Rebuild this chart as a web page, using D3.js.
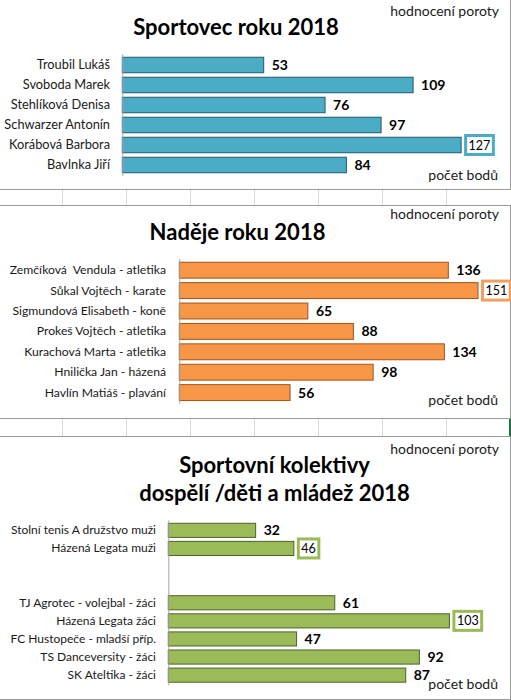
<!DOCTYPE html>
<html>
<head>
<meta charset="utf-8">
<script src="https://cdn.jsdelivr.net/npm/d3@7"></script>
<style>
  html, body { margin: 0; padding: 0; background: #fff; }
  svg { display: block; }
  text { font-family: Lato, "Noto Sans", sans-serif; white-space: pre; }
</style>
</head>
<body>
<svg id="chart" width="511" height="700"></svg>
<script>
// ---- data ----
const cats1 = ["Troubil Lukáš", "Svoboda Marek", "Stehlíková Denisa", "Schwarzer Antonín", "Korábová Barbora", "Bavlnka Jiří"];
const vals1 = [53, 109, 76, 97, 127, 84];
const boxed1 = ["Korábová Barbora"];

const cats2 = ["Zemčíková  Vendula - atletika", "Sůkal Vojtěch - karate", "Sigmundová Elisabeth - koně", "Prokeš Vojtěch - atletika", "Kurachová Marta - atletika", "Hnilička Jan - házená", "Havlín Matiáš - plavání"];
const vals2 = [136, 151, 65, 88, 134, 98, 56];
const boxed2 = ["Sůkal Vojtěch - karate"];

const cats3 = ["Stolní tenis A družstvo muži", "Házená Legata muži", "", "", "TJ Agrotec - volejbal - žáci", "Házená Legata žáci", "FC Hustopeče - mladší příp.", "TS Danceversity - žáci", "SK Ateltika - žáci"];
const vals3 = [32, 46, null, null, 61, 103, 47, 92, 87];
const boxed3 = ["Házená Legata muži", "Házená Legata žáci"];

const titles1 = ["Sportovec roku 2018"];
const titles2 = ["Naděje roku 2018"];
const titles3 = ["Sportovní kolektivy", "dospělí /děti a mládež 2018"];
const xMax1 = 140, xMax2 = 160, xMax3 = 120;
const topNote = "hodnocení poroty";
const axisNote = "počet bodů";

// ---- drawing ----
const svg = d3.select("#chart");

// spreadsheet cell strips between charts
function cellStrip(y0, y1) {
  const g = svg.append("g");
  const cols = d3.range(63, 511, 64);
  g.selectAll("line").data(cols).join("line")
    .attr("x1", d => d - 0.5).attr("x2", d => d - 0.5)
    .attr("y1", y0).attr("y2", y1)
    .attr("stroke", "#d9d9d9").attr("stroke-width", 1);
}
cellStrip(189, 205);
cellStrip(418, 436);
// green selection edge
svg.append("rect").attr("x", 509).attr("y", 418).attr("width", 2).attr("height", 18).attr("fill", "#217346");

const panels = [
  { cats: cats1, vals: vals1, boxed: boxed1, titles: titles1, xMax: xMax1,
    top: -1, bottom: 189, x0: 122.3, y0: 55, y1: 175, pad: 0.225,
    titleX: 236, titleY: [35], noteY: 16, axisNoteY: 180, labelX: 110, labelSize: 12.8,
    fill: "#4bacc6", stroke: "#215a6b", boxStroke: "#4bacc6" },
  { cats: cats2, vals: vals2, boxed: boxed2, titles: titles2, xMax: xMax2,
    top: 205, bottom: 418, x0: 179.3, y0: 260, y1: 402.8, pad: 0.22,
    titleX: 237.5, titleY: [240], noteY: 219, axisNoteY: 405, labelX: 166, labelSize: 12.2,
    fill: "#f79646", stroke: "#a4531a", boxStroke: "#f0a060" },
  { cats: cats3, vals: vals3, boxed: boxed3, titles: titles3, xMax: xMax3,
    top: 436, bottom: 699, x0: 168.3, y0: 521.3, y1: 684.2, pad: 0.22,
    titleX: 274.5, titleY: [473, 501], noteY: 454, axisNoteY: 689, labelX: 156, labelSize: 12,
    fill: "#9bbb59", stroke: "#4f6228", boxStroke: "#9bbb59" }
];

panels.forEach(p => {
  const g = svg.append("g");
  // chart area border
  g.append("rect")
    .attr("x", -2).attr("y", p.top + 0.5)
    .attr("width", 512.5).attr("height", p.bottom - p.top)
    .attr("fill", "#fff").attr("stroke", "#9a9a9a").attr("stroke-width", 1);

  const idx = p.cats.map((c, i) => i);
  const x = d3.scaleLinear().domain([0, p.xMax]).range([p.x0, 495.8]);
  const y = d3.scaleBand().domain(idx).range([p.y0, p.y1])
    .paddingInner(p.pad).paddingOuter(p.pad / 2);

  // titles
  p.titles.forEach((t, i) => {
    g.append("text").attr("x", p.titleX).attr("y", p.titleY[i])
      .attr("text-anchor", "middle").attr("font-size", 22).attr("font-weight", 700)
      .attr("fill", "#000").text(t);
  });
  g.append("text").attr("x", 499).attr("y", p.noteY).attr("text-anchor", "end")
    .attr("font-size", 14).attr("fill", "#1a1a1a").text(topNote);
  g.append("text").attr("x", 498).attr("y", p.axisNoteY).attr("text-anchor", "end")
    .attr("font-size", 14).attr("fill", "#1a1a1a").text(axisNote);

  // bars
  const data = idx.filter(i => p.vals[i] != null);
  g.selectAll("rect.bar").data(data).join("rect").attr("class", "bar")
    .attr("x", x(0)).attr("y", i => y(i))
    .attr("width", i => x(p.vals[i]) - x(0)).attr("height", y.bandwidth())
    .attr("fill", p.fill).attr("stroke", p.stroke).attr("stroke-width", 1);

  // axis
  const ax = d3.axisLeft(y).tickSize(0).tickPadding(p.x0 - p.labelX)
    .tickFormat(i => p.cats[i]);
  const axg = g.append("g").attr("transform", `translate(${p.x0},0)`).call(ax);
  axg.select(".domain").attr("stroke", "#a6a6a6").attr("d", `M0.5,${p.y0 - 1}V${p.y1 + 1}`);
  axg.selectAll(".tick text").attr("font-size", p.labelSize).attr("fill", "#1a1a1a")
    .attr("font-family", "Lato, 'Noto Sans', sans-serif");

  // value labels
  data.forEach(i => {
    const v = p.vals[i];
    const cy = y(i) + y.bandwidth() / 2;
    const isBox = p.boxed.includes(p.cats[i]);
    if (!isBox) {
      g.append("text").attr("x", x(v) + 8).attr("y", cy).attr("dy", "0.36em")
        .attr("font-size", 14).attr("font-weight", 700).attr("fill", "#000").text(v);
    } else {
      const t = g.append("text").attr("y", cy).attr("dy", "0.36em")
        .attr("text-anchor", "middle").attr("font-size", 12.5).attr("fill", "#000").text(v);
      const tw = t.node().getComputedTextLength();
      const bw = tw + 6, bh = 19;
      const bx = x(v) + 4.5;
      g.insert("rect", () => t.node())
        .attr("x", bx).attr("y", cy - bh / 2)
        .attr("width", bw).attr("height", bh)
        .attr("fill", "#fff").attr("stroke", p.boxStroke).attr("stroke-width", 3);
      t.attr("x", bx + bw / 2);
    }
  });
});
</script>
</body>
</html>
